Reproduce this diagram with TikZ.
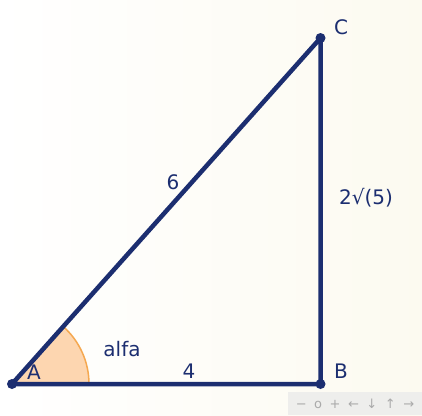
\documentclass[tikz,border=0pt]{standalone}
\usepackage{fontspec}
\setmainfont{DejaVu Sans}
\usetikzlibrary{calc}
\definecolor{navy}{RGB}{28,46,112}
\definecolor{peach}{RGB}{253,214,176}
\definecolor{arcorange}{RGB}{245,168,80}
\definecolor{cream}{RGB}{252,250,240}
\definecolor{tbar}{RGB}{238,238,236}
\definecolor{tbtext}{RGB}{170,170,170}
\begin{document}
\begin{tikzpicture}[x=1pt,y=-1pt,
  side/.style={draw=navy,line width=4.5pt,line cap=round,line join=round},
  vdot/.style={circle,fill=navy,inner sep=0pt,minimum size=10pt},
  lbl/.style={text=navy,font=\fontsize{20}{23}\selectfont,inner sep=0pt}]
\shade[left color=white,right color=cream] (0,0) rectangle (422,415);
\useasboundingbox (0,0) rectangle (422,415);
\coordinate (A) at (12,384);
\coordinate (B) at (320.5,384);
\coordinate (C) at (320.5,38);
\fill[peach] (A) -- ++(77,0) arc[start angle=0,end angle=-48.3,radius=77] -- cycle;
\draw[arcorange,line width=1.5pt] ($(A)+(77,0)$) arc[start angle=0,end angle=-48.3,radius=77];
\draw[side] (A) -- (B) -- (C) -- cycle;
\node[vdot] (pA) at (A) {};
\node[vdot] (pB) at (B) {};
\node[vdot] (pC) at (C) {};
\node[lbl] (lA) at (34,372) {A};
\node[lbl] (lB) at (341,371) {B};
\node[lbl] (lC) at (341,27) {C};
\node[lbl] (l6) at (173,182) {6};
\node[lbl] (l4) at (189,371) {4};
\node[lbl] (lalfa) at (122,349) {alfa};
\node[lbl] (lbc) at (366,198) {2√(5)};
\fill[tbar] (288,392) rectangle (422,415);
\node[text=tbtext,font=\fontsize{13}{15}\selectfont,inner sep=0pt] (tb) at (355,404) {−\hspace{7.5pt}o\hspace{7.5pt}+\hspace{7.5pt}←\hspace{7.5pt}↓\hspace{7.5pt}↑\hspace{7.5pt}→};
\end{tikzpicture}
\end{document}
